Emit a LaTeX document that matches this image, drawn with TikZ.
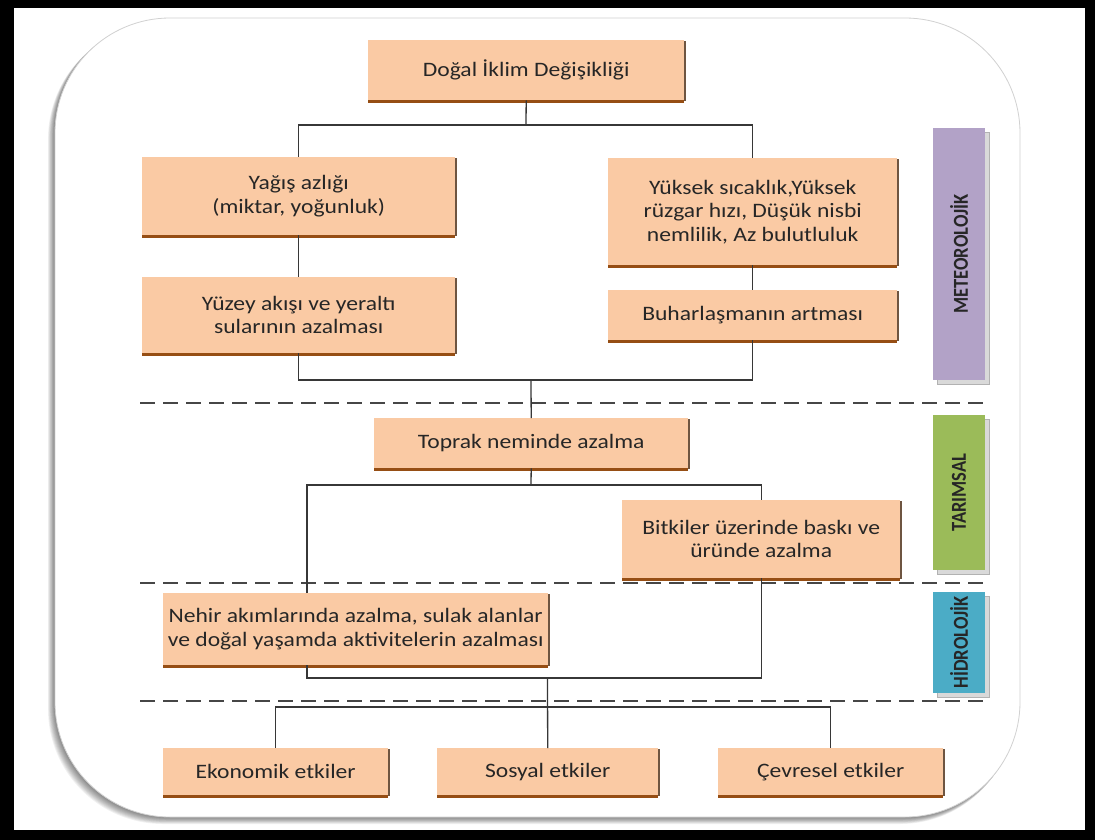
\documentclass[tikz,border=0pt]{standalone}
\usepackage{fontspec}
\setmainfont{Carlito}[FakeStretch=1.15]
\newfontfamily\sidefont{Carlito}
\usetikzlibrary{shadows}
\definecolor{peach}{RGB}{250,202,164}
\definecolor{boxbrown}{RGB}{150,78,20}
\definecolor{boxside}{RGB}{110,85,65}
\definecolor{txt}{RGB}{38,38,38}
\definecolor{metc}{RGB}{178,162,199}
\definecolor{tarc}{RGB}{155,187,89}
\definecolor{hidc}{RGB}{75,172,198}
\definecolor{linec}{RGB}{55,55,55}
\definecolor{dashc}{RGB}{70,70,70}
\begin{document}
\begin{tikzpicture}[x=1pt,y=-1pt,
  box/.style={fill=peach,align=center,inner sep=0pt,anchor=north west,
    text=txt,font=\fontsize{20.5}{23.5}\selectfont,
    general shadow={fill=boxside,shadow xshift=2pt,shadow yshift=-1pt},
    general shadow={fill=boxbrown,shadow xshift=0pt,shadow yshift=-3pt}},
  sidebar/.style={inner sep=0pt,minimum width=52pt,text=black!85,
    font=\sidefont\bfseries\fontsize{18.5}{20}\selectfont,
    general shadow={fill=black!15,draw=black!30,shadow xshift=4pt,shadow yshift=-4pt}},
  conn/.style={draw=linec,line width=1.3pt},
  sep/.style={draw=dashc,line width=2pt,dash pattern=on 15pt off 8pt}]
\useasboundingbox (0,0) rectangle (1095,840);
% frame
\fill[black] (0,0) rectangle (1095,840);
\fill[white] (14,8) rectangle (1085,830);
% panel shadow
\foreach \i in {1,...,10}{
  \fill[black,opacity=0.055,rounded corners=115pt] ({55-\i*0.7},{18+\i*0.6}) rectangle ({1020-\i*0.5},{817+\i*0.7});
}
\fill[white,draw=black!18,line width=0.8pt,rounded corners=115pt] (55,18) rectangle (1020,817);

% separators
\coordinate (s1a) at (140,403); \coordinate (s1b) at (987,403);
\coordinate (s2a) at (140,583); \coordinate (s2b) at (987,583);
\coordinate (s3a) at (140,701); \coordinate (s3b) at (987,701);
\draw[sep] (s1a) -- (s1b);
\draw[sep] (s2a) -- (s2b);
\draw[sep] (s3a) -- (s3b);

% side bars
\node[sidebar,fill=metc,minimum height=252pt] (met) at (959,254) {\rotatebox{90}{\scalebox{1}[1.15]{METEOROLOJİK}}};
\node[sidebar,fill=tarc,minimum height=155pt] (tar) at (959,492.5) {\rotatebox{90}{\scalebox{1}[1.15]{TARIMSAL}}};
\node[sidebar,fill=hidc,minimum height=101pt] (hid) at (959,642.5) {\rotatebox{90}{\scalebox{1}[1.15]{HİDROLOJİK}}};

% boxes
\node[box,minimum width=316pt,minimum height=60pt] (top) at (368,40) {Doğal İklim Değişikliği};
\node[box,minimum width=313pt,minimum height=78pt] (yag) at (142,157) {Yağış azlığı\\(miktar, yoğunluk)};
\node[box,minimum width=313pt,minimum height=76pt] (yuz) at (142,277) {Yüzey akışı ve yeraltı\\sularının azalması};
\node[box,minimum width=289pt,minimum height=107pt] (yuk) at (608,158) {Yüksek sıcaklık,Yüksek\\rüzgar hızı, Düşük nisbi\\nemlilik, Az bulutluluk};
\node[box,minimum width=289pt,minimum height=50pt] (buh) at (608,290) {Buharlaşmanın artması};
\node[box,minimum width=314pt,minimum height=50pt] (top2) at (374,418) {Toprak neminde azalma};
\node[box,minimum width=278pt,minimum height=78pt] (bit) at (622,500) {Bitkiler üzerinde baskı ve\\üründe azalma};
\node[box,minimum width=385pt,minimum height=72pt] (neh) at (163,593) {Nehir akımlarında azalma, sulak alanlar\\ve doğal yaşamda aktivitelerin azalması};
\node[box,minimum width=225pt,minimum height=47pt] (eko) at (163,748) {Ekonomik etkiler};
\node[box,minimum width=221pt,minimum height=47pt] (sos) at (437,748) {Sosyal etkiler};
\node[box,minimum width=225pt,minimum height=47pt] (cev) at (718,748) {Çevresel etkiler};

% connectors
\coordinate (b1) at (526,125);
\draw[conn] (top.south) -- (b1);
\draw[conn] (yag.north) |- (b1) -| (yuk.north);
\draw[conn] (yag.south) -- (yuz.north);
\draw[conn] (yuk.south) -- (buh.north);
\coordinate (b2) at (531,380);
\draw[conn] (yuz.south) |- (b2) -| (buh.south);
\draw[conn] (b2) -- (top2.north);
\coordinate (b3) at (531,485);
\coordinate (nt) at (307,593);
\coordinate (nb) at (307,665);
\draw[conn] (top2.south) -- (b3);
\draw[conn] (nt) |- (b3) -| (bit.north);
\coordinate (b4) at (547.5,678);
\draw[conn] (nb) |- (b4) -| (bit.south);
\draw[conn] (b4) -- (sos.north);
\coordinate (b5) at (547.5,707);
\draw[conn] (eko.north) |- (b5) -| (cev.north);
\end{tikzpicture}
\end{document}
